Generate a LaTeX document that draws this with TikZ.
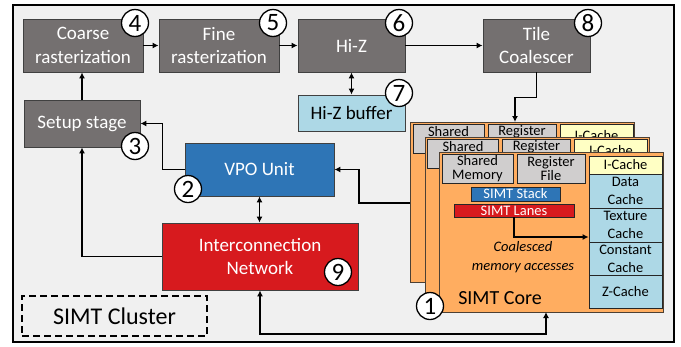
\documentclass[tikz,border=0pt]{standalone}
\usepackage{fontspec}
\setmainfont{Carlito}
\usetikzlibrary{arrows.meta}
\definecolor{bgc}{HTML}{F0F0F0}
\definecolor{boxgray}{HTML}{747070}
\definecolor{lblue}{HTML}{ADD8E6}
\definecolor{vpoblue}{HTML}{2E75B6}
\definecolor{netred}{HTML}{D71A1E}
\definecolor{cardorange}{HTML}{FFAD60}
\definecolor{cardedge}{HTML}{4D4033}
\definecolor{lgray}{HTML}{D0CECE}
\definecolor{lyellow}{HTML}{FFFFC4}
\newcommand\backcard[3]{%
\begin{scope}[shift={(#1,#2)}]
\node[cardbg, anchor=north west] (#3card) at (0,0) {};
\node[smallbox, fill=lgray, minimum width=71pt, minimum height=29pt] (#3sm) at (38.5,16.5) {};
\node[smallbox, fill=lgray, minimum width=68pt, minimum height=29pt] (#3rf) at (112,16.5) {};
\node[smallbox, fill=lyellow, minimum width=73pt, minimum height=22pt] (#3ic) at (186.5,13) {};
\node[smalltext] (#3smt) at (38.5,9.5) {Shared};
\node[smalltext] (#3rft) at (112,9.5) {Register};
\node[smalltext] (#3ict) at (186.5,14) {I-Cache};
\end{scope}}
\newcommand\simtcard[3]{%
\begin{scope}[shift={(#1,#2)}]
\node[cardbg, anchor=north west] (#3card) at (0,0) {};
\node[smallbox, fill=lgray, minimum width=71pt, minimum height=29pt] (#3sm) at (38.5,16.5) {Shared\\Memory};
\node[smallbox, fill=lgray, minimum width=68pt, minimum height=29pt] (#3rf) at (112,16.5) {Register\\File};
\node[smallbox, fill=lyellow, minimum width=73pt, minimum height=18pt] (#3ic) at (186.5,13) {I-Cache};
\node[smallbox, fill=lblue, minimum width=73pt, minimum height=34pt, font=\fontsize{14.5}{18}\selectfont] (#3dc) at (186.5,39) {Data\\Cache};
\node[smallbox, fill=lblue, minimum width=73pt, minimum height=34pt, font=\fontsize{14.5}{18}\selectfont] (#3tc) at (186.5,73) {Texture\\Cache};
\node[smallbox, fill=lblue, minimum width=73pt, minimum height=33pt, font=\fontsize{14.5}{18}\selectfont] (#3cc) at (186.5,106.5) {Constant\\Cache};
\node[smallbox, fill=lblue, minimum width=73pt, minimum height=33pt] (#3zc) at (186.5,139.5) {Z-Cache};
\node[smallbox, fill=vpoblue, text=white, minimum width=89pt, minimum height=14pt] (#3stack) at (76.5,42) {SIMT Stack};
\node[smallbox, fill=netred, text=white, minimum width=120pt, minimum height=13pt] (#3lanes) at (75,58.5) {SIMT Lanes};
\node[font=\fontsize{14.5}{19}\selectfont\itshape, align=center, inner sep=0pt] (#3coal) at (84,105.5) {Coalesced\\memory accesses};
\node[font=\fontsize{20}{22}\selectfont, inner sep=0pt] (#3title) at (61,146) {SIMT Core};
\end{scope}}
\begin{document}
\begin{tikzpicture}[x=1pt,y=-1pt,
  gbox/.style={draw=black!75, line width=0.8pt, fill=boxgray, text=white, align=center, inner sep=0pt, font=\fontsize{19}{23.5}\selectfont},
  num/.style={circle, draw=black, fill=white, line width=1.3pt, minimum size=27pt, inner sep=0pt, font=\fontsize{25}{25}\selectfont},
  conn/.style={line width=1.6pt, draw=black},
  arr/.style={conn, -{Latex[length=6pt,width=6pt]}},
  darr/.style={conn, {Latex[length=6pt,width=6pt]}-{Latex[length=6pt,width=6pt]}},
  cardbg/.style={draw=cardedge, line width=1pt, fill=cardorange, minimum width=224pt, minimum height=160pt, inner sep=0pt},
  smallbox/.style={draw=black!85, line width=0.8pt, align=center, inner sep=0pt, font=\fontsize{14.5}{14}\selectfont},
  smalltext/.style={inner sep=0pt, font=\fontsize{14.5}{14}\selectfont}]
\useasboundingbox (0,0) rectangle (681,346);
\fill[white] (0,0) rectangle (681,346);
\draw[fill=bgc, line width=2pt] (13,5) rectangle (674,342);

% pipeline boxes
\node[gbox, minimum width=120pt, minimum height=53pt] (coarse) at (83,45.5) {Coarse\\rasterization};
\node[gbox, minimum width=120pt, minimum height=53pt] (fine) at (219,45.5) {Fine\\rasterization};
\node[gbox, minimum width=107pt, minimum height=53pt] (hiz) at (351.5,45.5) {Hi-Z};
\node[gbox, minimum width=107pt, minimum height=53pt] (tile) at (536.5,45.5) {Tile\\Coalescer};
\node[gbox, fill=lblue, text=black, minimum width=107pt, minimum height=36pt] (hizbuf) at (351.5,113) {Hi-Z buffer};
\node[gbox, minimum width=116pt, minimum height=47pt] (setup) at (82,123.5) {Setup stage};
\node[gbox, fill=vpoblue, minimum width=149pt, minimum height=53pt] (vpo) at (259.5,169.5) {VPO Unit};
\node[gbox, fill=netred, minimum width=196pt, minimum height=67pt] (inter) at (260,256.5) {Interconnection\\Network};
\node[draw=black, dashed, dash pattern=on 7pt off 4pt, line width=1.6pt, minimum width=185pt, minimum height=40pt, inner sep=0pt, font=\fontsize{24}{26}\selectfont] (cluster) at (114.5,316) {SIMT Cluster};

% SIMT cores
\backcard{410}{122}{cc}
\backcard{424.5}{137}{cb}
\simtcard{439}{152}{ca}
\draw[arr] (calanes.south) |- ([yshift=-12pt]catc.west);

% named points
\coordinate (backtop) at (515,122);
\coordinate (backleft) at (410,203);
\coordinate (frontbot) at (546,312);

% connectors
\draw[arr] (coarse.east) -- (fine.west);
\draw[arr] (fine.east) -- (hiz.west);
\draw[arr] (hiz.east) -- (tile.west);
\draw[darr] (hiz.south) -- (hizbuf.north);
\draw[arr] (tile.south) -- ++(0,25) -| (backtop);
\draw[arr] (setup.north) -- (setup.north |- coarse.south);
\draw[arr] (vpo.west) -- ++(-22,0) |- (setup.east);
\draw[arr] (inter.west) -| (setup.south);
\draw[darr] (vpo.south) -- (vpo.south |- inter.north);
\draw[arr] (backleft) -- ++(-51,0) |- (vpo.east);
\draw[darr] (frontbot) -- ++(0,22) -| (inter.south);

% numbers
\node[num] (n4) at (135,23) {4};
\node[num] (n5) at (273,23) {5};
\node[num] (n6) at (399,23) {6};
\node[num] (n8) at (588,23) {8};
\node[num] (n7) at (399,93) {7};
\node[num] (n3) at (135,146) {3};
\node[num] (n2) at (188,189) {2};
\node[num] (n9) at (338,272) {9};
\node[num] (n1) at (430,306) {1};
\end{tikzpicture}
\end{document}
